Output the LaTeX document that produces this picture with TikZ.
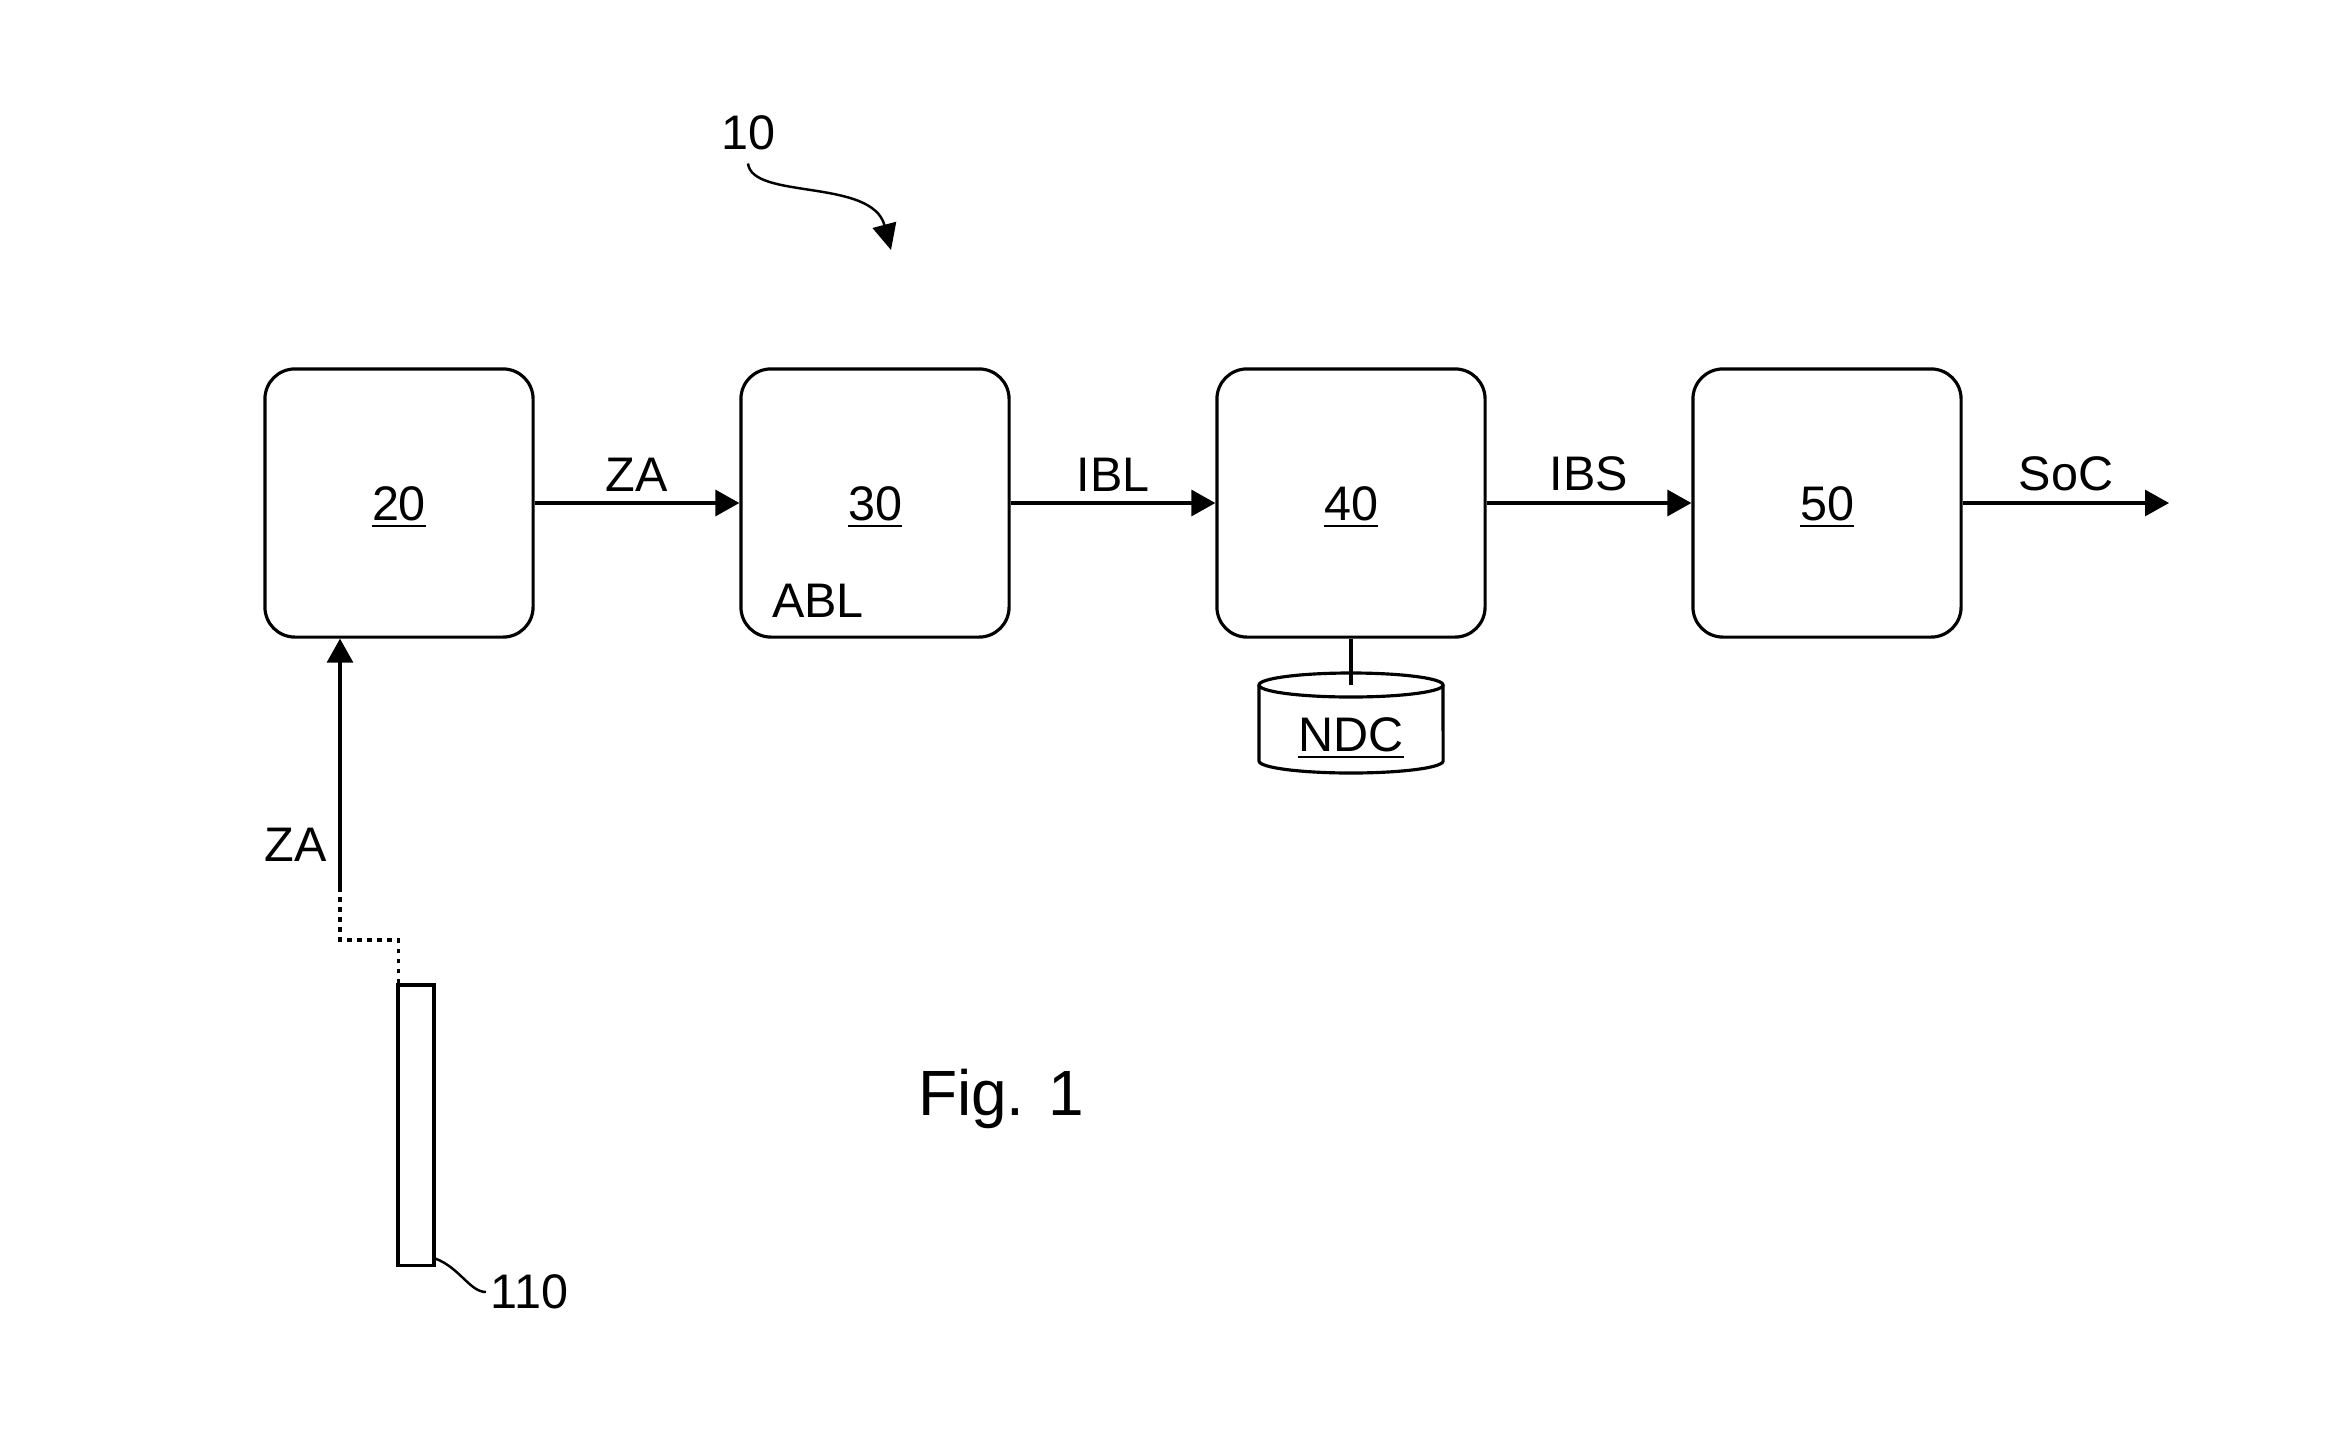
\documentclass[tikz,border=0pt]{standalone}
\usepackage{fontspec}
\setmainfont{Liberation Sans}
\usetikzlibrary{arrows.meta,calc}
\begin{document}
\begin{tikzpicture}[x=0.01cm,y=-0.01cm,
  line width=0.9pt,
  font=\fontsize{13.8}{16}\selectfont,
  block/.style={draw, rounded corners=0.3cm, minimum width=2.68cm,
                minimum height=2.68cm, inner sep=0pt,
                text height=9.9pt, text depth=0pt},
  arr/.style={-{Triangle[length=0.24cm,width=0.26cm]}},
  lbl/.style={above, inner sep=1mm},
  thin lead/.style={line width=0.7pt},
  link/.style={dash pattern=on 0.045cm off 0.055cm}]
\useasboundingbox (0,0) rectangle (2333,1448);

% processing chain
\node[block] (b20) at (399,503) {\underline{20}};
\node[block] (b30) at (875,503) {\underline{30}};
\node[block] (b40) at (1351,503) {\underline{40}};
\node[block] (b50) at (1827,503) {\underline{50}};
\node (abl) at (818,601) {ABL};
\coordinate (soc) at (2169,503);

\draw[arr] (b20.east) -- (b30.west) node[midway, lbl] {ZA};
\draw[arr] (b30.east) -- (b40.west) node[midway, lbl] {IBL};
\draw[arr] (b40.east) -- (b50.west) node[midway, lbl] {IBS};
\draw[arr] (b50.east) -- (soc) node[midway, lbl] {SoC};

% database below block 40
\coordinate (ndctop) at (1351,685);
\draw (1259,685) -- (1259,761)
      arc[start angle=180, end angle=360, x radius=0.92cm, y radius=0.12cm]
      -- (1443,685);
\draw (ndctop) ellipse [x radius=0.92cm, y radius=0.12cm];
\node[text height=9.9pt, text depth=0pt] (ndc) at (1351,734) {\underline{NDC}};
\draw (b40.south) -- (ndctop);

% sensor and its signal
\node[draw, minimum width=0.36cm, minimum height=2.8cm, inner sep=0pt]
  (sensor) at (416,1125) {};
\coordinate (za) at (340,890);
\draw[link] ($(sensor.north west)+(2,0)$) |- (340,940) -- (za);
\draw[arr] (za) -- (za |- b20.south) node[pos=0.18, left, inner sep=1.2mm] {ZA};
\draw[thin lead] ($(sensor.south east)+(0,-8)$)
  .. controls (460,1268) and (470,1292) .. (486,1292)
  node[right, inner sep=1pt] (n110) {110};

% overall reference numeral
\node (n10) at (748,133) {10};
\coordinate (t10) at (891,250);
\draw[-{Triangle[length=0.26cm,width=0.24cm]}, thin lead] (n10.south)
  .. controls (752,200) and (872,178) .. (t10);

\node[font=\fontsize{18.2}{22}\selectfont] (fig) at (1001,1099) {Fig. 1};
\end{tikzpicture}
\end{document}
